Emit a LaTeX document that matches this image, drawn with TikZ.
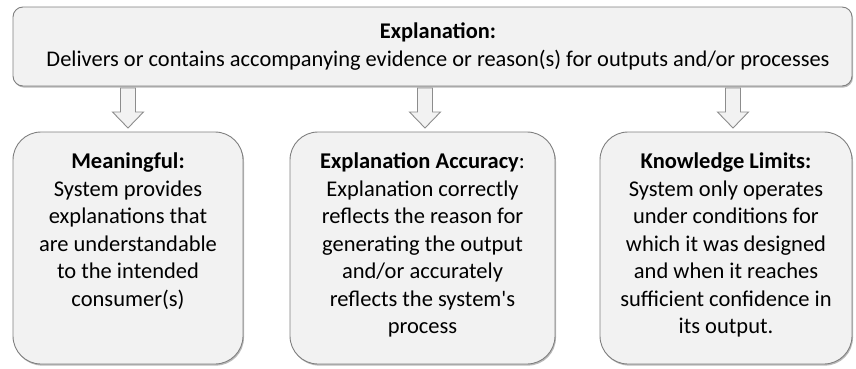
\documentclass[tikz,border=0pt]{standalone}
\usepackage{fontspec}
\setmainfont{Carlito}
\usetikzlibrary{shadows,calc}
\definecolor{boxfill}{HTML}{F2F2F2}
\definecolor{boxline}{HTML}{7F7F7F}
\definecolor{arrline}{HTML}{8C8C8C}
\begin{document}
\begin{tikzpicture}[x=1pt,y=1pt,
  panel/.style={draw=boxline, line width=0.9pt, fill=boxfill, rounded corners=#1,
    drop shadow={shadow xshift=1pt, shadow yshift=-1.6pt, opacity=0.45, fill=black!60}},
  panel/.default=28pt,
  txt/.style={align=center, inner sep=0pt, anchor=north, font=\fontsize{22.5}{27.5}\selectfont},
  toptxt/.style={align=center, inner sep=0pt, anchor=north, font=\fontsize{22.4}{28}\selectfont},
  blockarr/.style={draw=arrline, line width=0.9pt, fill=boxfill}
]
\useasboundingbox (0,0) rectangle (856,368);
% top box
\node[panel=10pt, minimum width=839pt, minimum height=79pt, inner sep=0pt] (top) at (432.5,321.5) {};
\node[toptxt] (toptext) at (438,345.5) {\textbf{Explanation:}\\Delivers or contains accompanying evidence or reason(s) for outputs and/or processes};
% lower boxes
\node[panel, minimum width=230pt, minimum height=232pt, inner sep=0pt] (b1) at (128,120) {};
\node[panel, minimum width=265pt, minimum height=232pt, inner sep=0pt] (b2) at (422.5,120) {};
\node[panel, minimum width=252pt, minimum height=232pt, inner sep=0pt] (b3) at (726,120) {};
\node[txt] (t1) at ($(b1.north)+(0,-21)$) {\textbf{Meaningful:}\\System provides\\explanations that\\are understandable\\to the intended\\consumer(s)};
\node[txt] (t2) at ($(b2.north)+(0,-21)$) {\textbf{Explanation Accuracy}:\\Explanation correctly\\reflects the reason for\\generating the output\\and/or accurately\\reflects the system\textquotesingle s\\process};
\node[txt] (t3) at ($(b3.north)+(0,-21)$) {\textbf{Knowledge Limits:}\\System only operates\\under conditions for\\which it was designed\\and when it reaches\\sufficient confidence in\\its output.};
% block arrows
\foreach \i/\xc in {1/128,2/425,3/733}{
  \coordinate (s\i) at (\xc,280);
  \coordinate (e\i) at (\xc,240);
  \draw[blockarr] ($(s\i)+(-7.5,0)$) -- ($(s\i)+(7.5,0)$) -- ($(e\i)+(7.5,16)$) -- ($(e\i)+(15.5,16)$)
     -- (e\i) -- ($(e\i)+(-15.5,16)$) -- ($(e\i)+(-7.5,16)$) -- cycle;
}
\end{tikzpicture}
\end{document}
